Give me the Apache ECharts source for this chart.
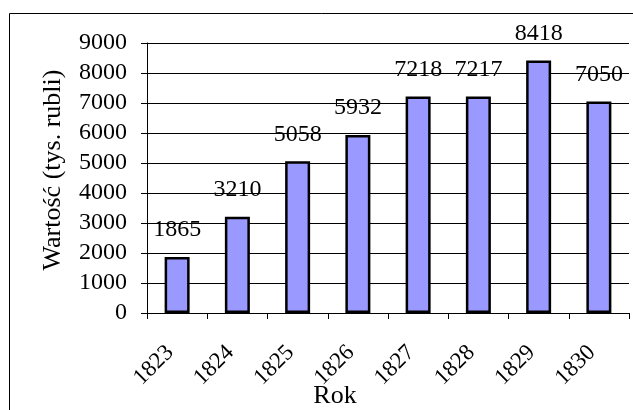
<!DOCTYPE html>
<html>
<head>
<meta charset="utf-8">
<script src="https://cdn.jsdelivr.net/npm/echarts@6/dist/echarts.min.js"></script>
<style>
html,body{margin:0;padding:0;background:#fff;}
#c{width:633px;height:410px;}
</style>
</head>
<body>
<div id="c"></div>
<script>
const years = ['1823','1824','1825','1826','1827','1828','1829','1830'];
const values = [1865, 3210, 5058, 5932, 7218, 7217, 8418, 7050];
const yTitle = 'Wartość (tys. rubli)';
const xTitle = 'Rok';

const FONT = "'Liberation Serif', 'Times New Roman', serif";
const chart = echarts.init(document.getElementById('c'), null, {renderer: 'canvas'});
chart.setOption({
  animation: false,
  backgroundColor: '#fff',
  graphic: [{
    type: 'rect', left: 7, top: 11,
    shape: {width: 700, height: 500},
    style: {fill: 'none', stroke: '#000', lineWidth: 1}
  }],
  grid: {left: 147, right: 4, top: 43, bottom: 97, containLabel: false, outerBoundsMode: 'none'},
  xAxis: {
    type: 'category',
    data: years,
    name: xTitle,
    nameLocation: 'middle',
    nameGap: 70,
    nameMoveOverlap: false,
    nameTextStyle: {fontFamily: FONT, fontSize: 26, color: '#000', padding: [0, 106, 0, 0]},
    axisLine: {lineStyle: {color: '#000', width: 1}},
    axisTick: {show: true, length: 6, lineStyle: {color: '#000'}},
    axisLabel: {rotate: 45, margin: 29, padding: [0, 10, 0, 0], fontFamily: FONT, fontSize: 23, color: '#000'},
    splitLine: {show: false}
  },
  yAxis: {
    type: 'value',
    min: 0, max: 9000, interval: 1000,
    name: yTitle,
    nameLocation: 'middle',
    nameGap: 81,
    nameMoveOverlap: false,
    nameTextStyle: {fontFamily: FONT, fontSize: 26, color: '#000', padding: [0, 0, 0, 16]},
    axisLine: {show: true, lineStyle: {color: '#000', width: 1}},
    axisTick: {show: true, length: 6, lineStyle: {color: '#000'}},
    axisLabel: {margin: 20, fontFamily: FONT, fontSize: 24, color: '#000', formatter: v => String(v)},
    splitLine: {show: true, lineStyle: {color: '#000', width: 1}}
  },
  series: [{
    type: 'bar',
    data: values,
    barWidth: 25,
    itemStyle: {color: '#9999FF', borderColor: '#000', borderWidth: 2.5},
    label: {show: true, position: 'top', distance: 15, fontFamily: FONT, fontSize: 24, color: '#000'}
  }]
});
</script>
</body>
</html>
